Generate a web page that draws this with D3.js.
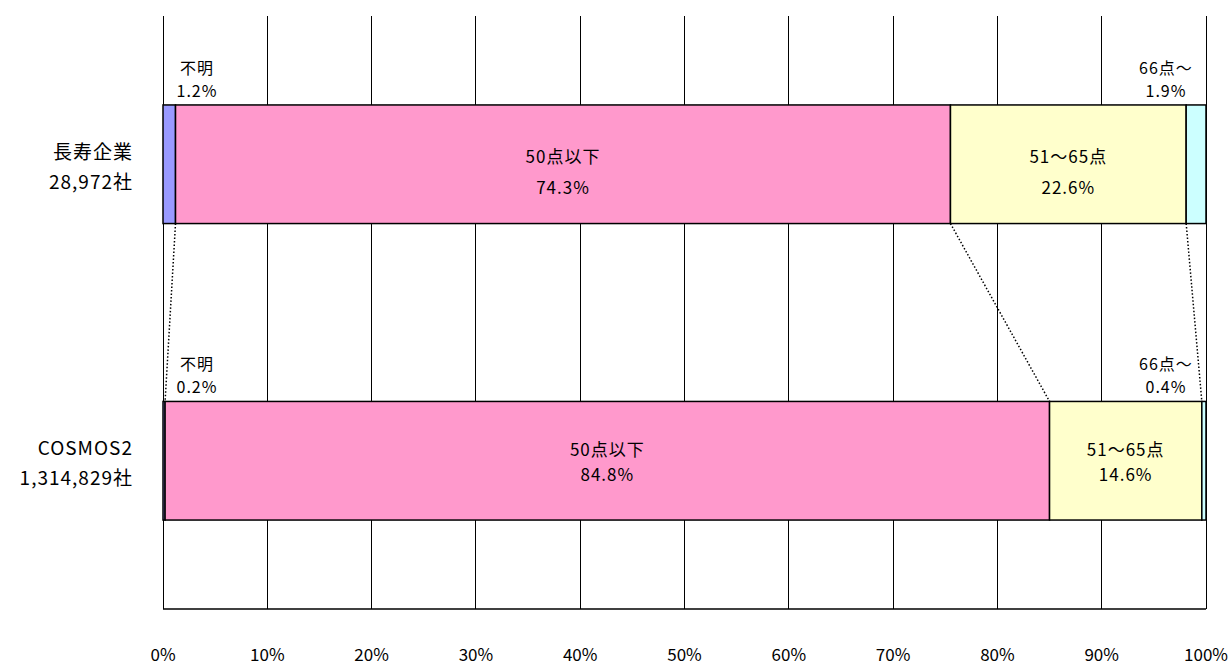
<!DOCTYPE html>
<html>
<head>
<meta charset="utf-8">
<script src="https://cdn.jsdelivr.net/npm/d3@7"></script>
<style>
  body { margin: 0; background: #fff; }
  svg { display: block; font-family: "Noto Sans CJK JP", "Noto Sans", sans-serif; }
</style>
</head>
<body>
<div id="chart"></div>
<script>
// Data
var categoryNames = ['長寿企業', 'COSMOS2'];
var categoryCounts = ['28,972社', '1,314,829社'];
var segmentNames = ['不明', '50点以下', '51～65点', '66点～'];
var segmentColors = ['#9999ff', '#ff99cc', '#ffffcc', '#ccffff'];
var chojuValues = [1.2, 74.3, 22.6, 1.9];
var cosmosValues = [0.2, 84.8, 14.6, 0.4];
var tickValues = [0, 10, 20, 30, 40, 50, 60, 70, 80, 90, 100];

(function() {
    'use strict';

    var width = 1232, height = 665;
    var left = 163, right = 1206, top = 16, bottom = 609;
    var seriesValues = [chojuValues, cosmosValues];

    var svg = d3.select('#chart').append('svg')
        .attr('width', width)
        .attr('height', height);

    var x = d3.scaleLinear().domain([0, 100]).range([left, right]);
    var y = d3.scaleBand().domain(categoryNames).range([top, bottom])
        .paddingInner(0.6).paddingOuter(0.3);

    // stacked rows
    var rows = categoryNames.map(function(name, i) {
        var acc = 0;
        return {
            name: name,
            count: categoryCounts[i],
            segs: seriesValues[i].map(function(v, j) {
                var s = { name: segmentNames[j], value: v, x0: acc, x1: acc + v, color: segmentColors[j] };
                acc += v;
                return s;
            })
        };
    });

    // gridlines
    svg.append('g').selectAll('line')
        .data(tickValues)
        .join('line')
        .attr('x1', function(d) { return x(d); })
        .attr('x2', function(d) { return x(d); })
        .attr('y1', top)
        .attr('y2', bottom)
        .attr('stroke', '#000')
        .attr('stroke-width', 1)
        .attr('shape-rendering', 'crispEdges');

    // bottom axis line
    svg.append('line')
        .attr('x1', left).attr('x2', right)
        .attr('y1', bottom).attr('y2', bottom)
        .attr('stroke', '#000')
        .attr('stroke-width', 1.5);

    // connector lines between rows
    var r0 = rows[0], r1 = rows[1];
    var joins = r0.segs.slice(0, -1).map(function(s, j) {
        return { a: s.x1, b: r1.segs[j].x1 };
    });
    svg.append('g').selectAll('line')
        .data(joins)
        .join('line')
        .attr('x1', function(d) { return x(d.a); })
        .attr('y1', y(r0.name) + y.bandwidth())
        .attr('x2', function(d) { return x(d.b); })
        .attr('y2', y(r1.name))
        .attr('stroke', '#000')
        .attr('stroke-width', 1.5)
        .attr('stroke-dasharray', '1.5,2');

    // bars
    var rowG = svg.append('g').selectAll('g')
        .data(rows)
        .join('g');

    rowG.selectAll('rect')
        .data(function(d) { return d.segs.map(function(s) { return Object.assign({ row: d.name }, s); }); })
        .join('rect')
        .attr('x', function(d) { return x(d.x0); })
        .attr('y', function(d) { return y(d.row); })
        .attr('width', function(d) { return x(d.x1) - x(d.x0); })
        .attr('height', y.bandwidth())
        .attr('fill', function(d) { return d.color; })
        .attr('stroke', '#000')
        .attr('stroke-width', 1.5);

    function twoLines(cx, y1, y2, a, b, size) {
        var t = svg.append('text')
            .attr('text-anchor', 'middle')
            .attr('font-size', size)
            .attr('letter-spacing', 1)
            .attr('fill', '#000');
        t.append('tspan').attr('x', cx).attr('y', y1).attr('dy', '0.35em').text(a);
        t.append('tspan').attr('x', cx).attr('y', y2).attr('dy', '0.35em').text(b);
        return t;
    }

    // labels inside the two wide segments
    var innerDy = [[-7, 24], [-11, 14]];
    rows.forEach(function(r, i) {
        var cy = y(r.name) + y.bandwidth() / 2;
        r.segs.slice(1, 3).forEach(function(s) {
            var cx = x((s.x0 + s.x1) / 2);
            twoLines(cx, cy + innerDy[i][0], cy + innerDy[i][1], s.name, s.value.toFixed(1) + '%', 17);
        });

        // small segments: labels above the bar
        var by = y(r.name);
        twoLines(x(0) + 34, by - 37, by - 14, r.segs[0].name, r.segs[0].value.toFixed(1) + '%', 16);
        twoLines(x(100) - 40, by - 37, by - 14, r.segs[3].name, r.segs[3].value.toFixed(1) + '%', 16);

        // category label
        var lt = svg.append('text')
            .attr('text-anchor', 'end')
            .attr('font-size', 19)
            .attr('letter-spacing', 1)
            .attr('fill', '#000');
        lt.append('tspan').attr('x', 133).attr('y', cy - 12).attr('dy', '0.35em').text(r.name);
        lt.append('tspan').attr('x', 133).attr('y', cy + 18).attr('dy', '0.35em').text(r.count);
    });

    // x tick labels
    svg.append('g').selectAll('text')
        .data(tickValues)
        .join('text')
        .attr('x', function(d) { return x(d); })
        .attr('y', 655)
        .attr('dy', '0.35em')
        .attr('text-anchor', 'middle')
        .attr('font-size', 17)
        .attr('fill', '#000')
        .text(function(d) { return d + '%'; });
})();
</script>
</body>
</html>
